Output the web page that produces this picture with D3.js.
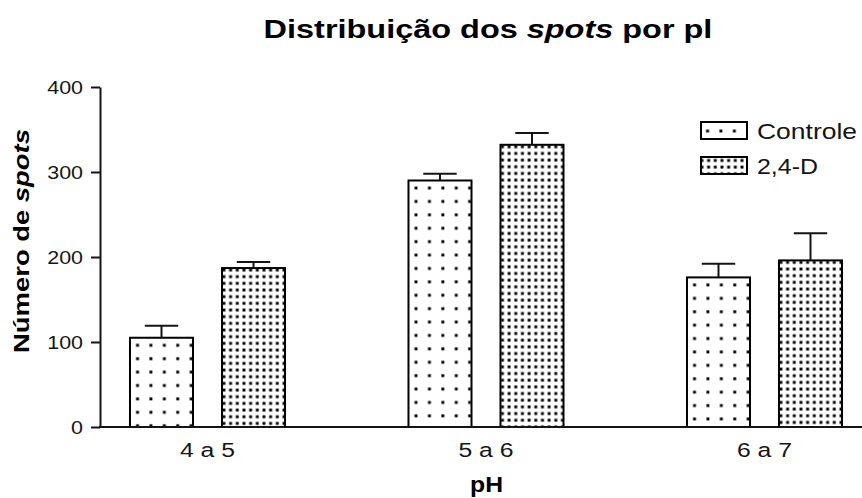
<!DOCTYPE html>
<html>
<head>
<meta charset="utf-8">
<script src="https://cdn.jsdelivr.net/npm/d3@7"></script>
<style>
  html, body { margin: 0; padding: 0; background: #fff; }
  svg { display: block; font-family: "Liberation Sans", Arial, sans-serif; }
</style>
</head>
<body>
<svg id="chart" width="862" height="498"></svg>
<script>
// pH ranges and the two treatments
const categories = ["4 a 5", "5 a 6", "6 a 7"];
const seriesNames = ["Controle", "2,4-D"];
// mean number of spots and upper error (SEM)
const controleMeans = [105, 290, 176];
const controleErr = [14, 8, 16];
const d24Means = [187, 332, 196];
const d24Err = [7, 14, 32];
const yTicks = [0, 100, 200, 300, 400];

const ink = "#141414";
const svg = d3.select("#chart");
const defs = svg.append("defs");

// plot frame
const plotLeft = 100, plotRight = 862, plotTop = 87, plotBottom = 427;

const y = d3.scaleLinear().domain([0, 400]).range([plotBottom, plotTop]);
const x = d3.scaleBand().domain(categories).range([68.25, 903.75]);
const xInner = d3.scaleBand().domain(seriesNames)
  .range([0, x.bandwidth()]).paddingInner(0.315).paddingOuter(0.671);

// dotted fills: sparse grid for Controle, dense grid for 2,4-D
const patternSpec = {
  "Controle": { step: 13.4, off: 6.1, dot: 2.9 },
  "2,4-D": { step: 6.67, off: 0.5, dot: 2.9 }
};
let patId = 0;
function makePattern(name, ox, oy) {
  const s = patternSpec[name];
  const id = "pat" + (patId++);
  const p = defs.append("pattern").attr("id", id)
    .attr("patternUnits", "userSpaceOnUse")
    .attr("x", ox).attr("y", oy)
    .attr("width", s.step).attr("height", s.step);
  p.append("rect").attr("width", s.step).attr("height", s.step).attr("fill", "#fff");
  p.append("rect").attr("x", s.off).attr("y", s.off)
    .attr("width", s.dot).attr("height", s.dot).attr("fill", "#000");
  return "url(#" + id + ")";
}

// stretch a text horizontally (in its own direction) to a target width
function fitWidth(node, target) {
  const w = node.getComputedTextLength();
  return w > 0 ? target / w : 1;
}

const rows = [];
categories.forEach((c, i) => {
  rows.push({ cat: c, series: "Controle", v: controleMeans[i], e: controleErr[i] });
  rows.push({ cat: c, series: "2,4-D", v: d24Means[i], e: d24Err[i] });
});

// bars
const bars = svg.append("g");
rows.forEach(d => {
  const bx = x(d.cat) + xInner(d.series);
  const by = y(d.v);
  const bw = xInner.bandwidth();
  bars.append("rect")
    .attr("x", bx).attr("y", by)
    .attr("width", bw).attr("height", y(0) - by)
    .attr("fill", makePattern(d.series, bx, by))
    .attr("stroke", "#000").attr("stroke-width", 2);
  // upper error bar with cap
  const cx = bx + bw / 2;
  const capW = bw * 0.53;
  bars.append("line")
    .attr("x1", cx).attr("x2", cx)
    .attr("y1", by).attr("y2", y(d.v + d.e))
    .attr("stroke", ink).attr("stroke-width", 2);
  bars.append("line")
    .attr("x1", cx - capW / 2).attr("x2", cx + capW / 2)
    .attr("y1", y(d.v + d.e)).attr("y2", y(d.v + d.e))
    .attr("stroke", ink).attr("stroke-width", 2);
});

// y axis
const yAxis = svg.append("g").attr("transform", `translate(${plotLeft},0)`)
  .call(d3.axisLeft(y).tickValues(yTicks).tickSize(9).tickPadding(8).tickSizeOuter(0));
yAxis.select(".domain").attr("stroke", ink).attr("stroke-width", 2);
yAxis.selectAll(".tick line").attr("stroke", ink).attr("stroke-width", 2);
yAxis.selectAll(".tick text")
  .attr("font-size", 19).attr("fill", ink)
  .attr("font-family", "Liberation Sans, Arial, sans-serif")
  .each(function () {
    const t = d3.select(this);
    const tx = +t.attr("x");
    t.attr("x", 0).attr("transform", `translate(${tx},0) scale(1.13,1)`);
  });

// x axis: baseline across the plot, labels under each group
svg.append("line")
  .attr("x1", plotLeft - 1).attr("x2", plotRight)
  .attr("y1", y(0)).attr("y2", y(0))
  .attr("stroke", ink).attr("stroke-width", 2);
const xAxis = svg.append("g").attr("transform", `translate(0,${y(0)})`)
  .call(d3.axisBottom(x).tickSize(0).tickPadding(16));
xAxis.select(".domain").remove();
xAxis.selectAll(".tick text")
  .attr("font-size", 19.5).attr("fill", ink)
  .attr("font-family", "Liberation Sans, Arial, sans-serif")
  .each(function () {
    const t = d3.select(this);
    const ty = +t.attr("y");
    t.attr("y", 0).attr("transform", `translate(0,${ty}) scale(1.27,1)`);
  });

// title
const title = svg.append("text")
  .attr("text-anchor", "middle").attr("font-size", 25.5).attr("font-weight", "bold")
  .attr("fill", "#000");
title.append("tspan").text("Distribuição dos ");
title.append("tspan").attr("font-style", "italic").text("spots");
title.append("tspan").text(" por pl");
title.attr("transform", `translate(488,38) scale(${fitWidth(title.node(), 449)},1)`);

// y axis title
const yTitle = svg.append("text")
  .attr("text-anchor", "middle").attr("font-size", 22).attr("font-weight", "bold")
  .attr("fill", "#000");
yTitle.append("tspan").text("Número de ");
yTitle.append("tspan").attr("font-style", "italic").text("spots");
yTitle.attr("transform", `translate(29,241) rotate(-90) scale(${fitWidth(yTitle.node(), 224)},1)`);

// x axis title
const xTitle = svg.append("text")
  .attr("text-anchor", "middle").attr("font-size", 22).attr("font-weight", "bold")
  .attr("fill", "#000").text("pH");
xTitle.attr("transform", `translate(486.5,492) scale(${fitWidth(xTitle.node(), 33)},1)`);

// legend
const legendTargets = { "Controle": 100, "2,4-D": 61 };
seriesNames.forEach((name, i) => {
  const ly = 122 + i * 35;
  const bx = 701, bw = 46, bh = 17;
  svg.append("rect")
    .attr("x", bx).attr("y", ly).attr("width", bw).attr("height", bh)
    .attr("fill", makePattern(name, bx - 1, ly + 1.5))
    .attr("stroke", "#000").attr("stroke-width", 2);
  const t = svg.append("text")
    .attr("font-size", 22).attr("fill", ink).text(name);
  t.attr("transform", `translate(757,${ly + 16.5}) scale(${fitWidth(t.node(), legendTargets[name])},1)`);
});
</script>
</body>
</html>
